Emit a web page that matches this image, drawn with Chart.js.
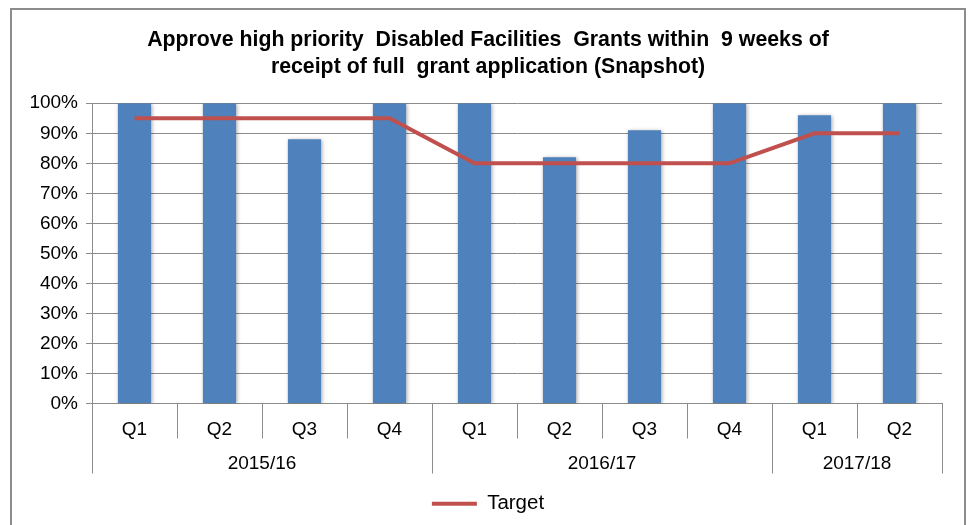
<!DOCTYPE html>
<html>
<head>
<meta charset="utf-8">
<script src="https://cdn.jsdelivr.net/npm/chart.js@4.4.1/dist/chart.umd.min.js"></script>
<style>
    body { margin: 0; background: #fff; }
    #wrap { position: relative; width: 970px; height: 525px; overflow: hidden; }
    #frame { position: absolute; left: 10px; top: 8px; width: 952px; height: 530px; border: 2px solid #8c8c8c; pointer-events: none; }
</style>
</head>
<body>
<div id="wrap"><canvas id="chart"></canvas><div id="frame"></div></div>
<script>
// values
const quarters = ['Q1', 'Q2', 'Q3', 'Q4', 'Q1', 'Q2', 'Q3', 'Q4', 'Q1', 'Q2'];
const years = ['2015/16', '2016/17', '2017/18'];
const yearSpans = [4, 4, 2];
const actual = [100, 100, 88, 100, 100, 82, 91, 100, 96, 100];
const target = [95, 95, 95, 95, 80, 80, 80, 80, 90, 90];
const titleLines = [
    'Approve high priority  Disabled Facilities  Grants within  9 weeks of',
    'receipt of full  grant application (Snapshot)'
];

const axisGray = '#8c8c8c';
const font = '"Liberation Sans", Arial, sans-serif';

// soft shadow round the bars, like the Excel original
const barShadow = {
    id: 'barShadow',
    beforeDatasetDraw(chart, args) {
        if (args.meta.type !== 'bar') return;
        const ctx = chart.ctx;
        ctx.save();
        ctx.shadowColor = 'rgba(0, 0, 0, 0.35)';
        ctx.shadowBlur = 4;
        ctx.shadowOffsetX = 1;
        ctx.shadowOffsetY = 1;
    },
    afterDatasetDraw(chart, args) {
        if (args.meta.type !== 'bar') return;
        chart.ctx.restore();
    }
};

// quarter separators plus the year row under the category axis
const groupAxis = {
    id: 'groupAxis',
    afterDraw(chart) {
        const x = chart.scales.x;
        const ctx = chart.ctx;
        const n = quarters.length;
        const edge = i => {
            if (i === 0) return x.left;
            if (i === n) return x.right;
            return (x.getPixelForTick(i - 1) + x.getPixelForTick(i)) / 2;
        };
        const groupEdges = [0];
        yearSpans.forEach(s => groupEdges.push(groupEdges[groupEdges.length - 1] + s));

        ctx.save();
        ctx.strokeStyle = axisGray;
        ctx.lineWidth = 1;
        for (let i = 0; i <= n; i++) {
            const len = groupEdges.includes(i) ? 70 : 35;
            const px = Math.round(edge(i)) + 0.5;
            ctx.beginPath();
            ctx.moveTo(px, x.top);
            ctx.lineTo(px, x.top + len);
            ctx.stroke();
        }
        ctx.fillStyle = '#000';
        ctx.font = '19px ' + font;
        ctx.textAlign = 'center';
        ctx.textBaseline = 'middle';
        years.forEach((y, k) => {
            const cx = (edge(groupEdges[k]) + edge(groupEdges[k + 1])) / 2;
            ctx.fillText(y, cx, x.top + 60);
        });
        ctx.restore();
    }
};

new Chart(document.getElementById('chart'), {
    type: 'bar',
    data: {
        labels: quarters,
        datasets: [{
            type: 'line',
            label: 'Target',
            data: target,
            yAxisID: 'y',
            borderColor: '#C0504D',
            backgroundColor: '#C0504D',
            borderWidth: 4,
            pointRadius: 0,
            tension: 0,
            order: 0
        }, {
            label: 'Actual',
            data: actual,
            yAxisID: 'y',
            backgroundColor: '#4F81BD',
            borderWidth: 0,
            barPercentage: 0.39,
            categoryPercentage: 1,
            order: 1
        }]
    },
    options: {
        responsive: true,
        maintainAspectRatio: false,
        animation: false,
        // title and legend are centred on the frame, not on the plot
        layout: { padding: { left: 6, right: 0, top: 0, bottom: 1 } },
        scales: {
            x: {
                grid: { display: false },
                border: { color: axisGray },
                ticks: { color: '#000', font: { family: font, size: 19 }, padding: 7, maxRotation: 0 },
                afterFit: s => { s.height = 80; }
            },
            y: {
                min: 0,
                max: 100,
                ticks: {
                    stepSize: 10,
                    color: '#000',
                    padding: 8,
                    font: { family: font, size: 19 },
                    callback: v => v + '%'
                },
                grid: { color: axisGray, tickLength: 6 },
                border: { color: axisGray },
                afterFit: s => { s.width = 86; }
            },
            // empty spacer on the right so the plot ends where the original does
            spacer: {
                type: 'linear',
                position: 'right',
                grid: { display: false },
                border: { display: false },
                ticks: { display: false },
                afterFit: s => { s.width = 28; }
            }
        },
        plugins: {
            title: {
                display: true,
                text: titleLines,
                color: '#000',
                font: { family: font, size: 21.3, weight: 'bold', lineHeight: 1.25 },
                padding: { top: 27, bottom: 23 }
            },
            legend: {
                position: 'bottom',
                labels: {
                    filter: item => item.text === 'Target',
                    usePointStyle: true,
                    pointStyle: 'line',
                    pointStyleWidth: 45,
                    boxHeight: 4,
                    color: '#000',
                    font: { family: font, size: 20.5 }
                }
            },
            tooltip: { enabled: false }
        }
    },
    plugins: [barShadow, groupAxis]
});
</script>
</body>
</html>
